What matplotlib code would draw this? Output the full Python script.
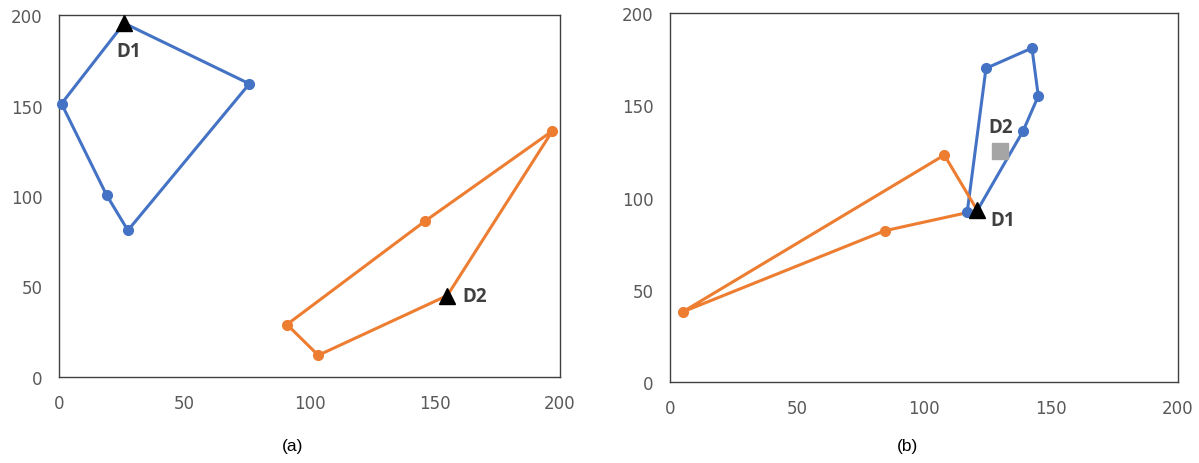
import matplotlib
matplotlib.use("Agg")
import matplotlib.pyplot as plt

# Panel (a)
a_blue_x = [26, 76, 27.5, 19, 1, 26]
a_blue_y = [195.5, 162, 81, 100.5, 151, 195.5]
a_orange_x = [197, 146, 91, 103.5, 155, 197]
a_orange_y = [136, 86, 29, 12, 45, 136]
a_d1 = (26, 195.5)
a_d2 = (155, 45)

# Panel (b)
b_blue_x = [121, 139, 145, 142.5, 124.4, 117, 121]
b_blue_y = [93, 136, 155, 181, 170, 92, 93]
b_orange_x = [121, 108, 5, 84.6, 121]
b_orange_y = [93, 123, 38, 82, 93]
b_d1 = (121, 93)
b_d2 = (130, 125)

ticks = [0, 50, 100, 150, 200]
BLUE = "#4472C4"
ORANGE = "#ED7D31"
TXT = "#404040"

fig = plt.figure(figsize=(11.99, 4.64), dpi=100)
axA = fig.add_axes([59/1199, 1-378/464, (560-59)/1199, (378-16)/464])
axB = fig.add_axes([670/1199, 1-383/464, (1178-670)/1199, (383-14)/464])

def style(ax):
    ax.set_xlim(0, 200)
    ax.set_ylim(0, 200)
    ax.set_xticks(ticks)
    ax.set_yticks(ticks)
    ax.tick_params(length=0, labelsize=12, colors="#595959", pad=12)
    for s in ax.spines.values():
        s.set_color("#404040")
        s.set_linewidth(1.0)

axA.plot(a_blue_x[1:-1], a_blue_y[1:-1], ls="none", marker="o", markersize=7, color=BLUE, clip_on=False, zorder=3)
axA.plot(a_blue_x, a_blue_y, color=BLUE, lw=2.2, clip_on=False, zorder=2)
axA.plot(a_orange_x[:-2], a_orange_y[:-2], ls="none", marker="o", markersize=7, color=ORANGE, clip_on=False, zorder=3)
axA.plot(a_orange_x, a_orange_y, color=ORANGE, lw=2.2, clip_on=False, zorder=2)
axA.plot(*a_d1, marker="^", markersize=12, color="black", ls="none", clip_on=False, zorder=4)
axA.plot(*a_d2, marker="^", markersize=12, color="black", ls="none", clip_on=False, zorder=4)
axA.text(a_d1[0] + 2, a_d1[1] - 10, "D1", fontsize=13.5, fontweight="bold", color=TXT, ha="center", va="top", family="Open Sans")
axA.text(a_d2[0] + 6, a_d2[1], "D2", fontsize=13.5, fontweight="bold", color=TXT, ha="left", va="center", family="Open Sans")
style(axA)

axB.plot(b_blue_x[1:-1], b_blue_y[1:-1], ls="none", marker="o", markersize=7, color=BLUE, clip_on=False, zorder=3)
axB.plot(b_blue_x, b_blue_y, color=BLUE, lw=2.2, clip_on=False, zorder=2)
axB.plot(b_orange_x[1:-1], b_orange_y[1:-1], ls="none", marker="o", markersize=7, color=ORANGE, clip_on=False, zorder=3)
axB.plot(b_orange_x, b_orange_y, color=ORANGE, lw=2.2, clip_on=False, zorder=2)
axB.plot(*b_d2, marker="s", markersize=11, color="#A5A5A5", ls="none", zorder=4)
axB.plot(*b_d1, marker="^", markersize=12, color="black", ls="none", zorder=5)
axB.text(b_d2[0], b_d2[1] + 8, "D2", fontsize=13.5, fontweight="bold", color=TXT, ha="center", va="bottom", family="Open Sans")
axB.text(b_d1[0] + 5, b_d1[1] - 5, "D1", fontsize=13.5, fontweight="bold", color=TXT, ha="left", va="center", family="Open Sans")
style(axB)

fig.text(293/1199, 1-447/464, "(a)", fontsize=12.5, ha="center", va="center", color="black", family="Liberation Sans")
fig.text(908/1199, 1-447/464, "(b)", fontsize=12.5, ha="center", va="center", color="black", family="Liberation Sans")

fig.savefig("out.png", dpi=100)
